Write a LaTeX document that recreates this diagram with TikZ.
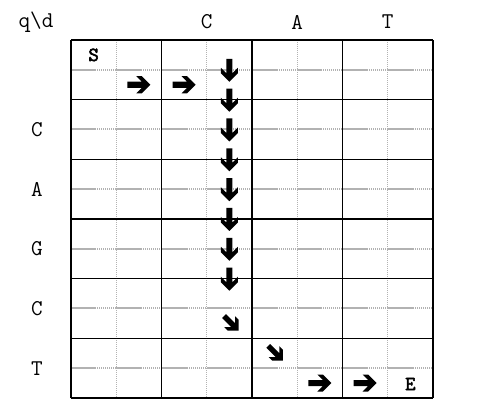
\documentclass[tikz,border=0pt]{standalone}
\usepackage{fontspec}
\newfontfamily\boldmono{Latin Modern Mono}[FakeBold=3]
\begin{document}
\begin{tikzpicture}[x=1pt,y=-1pt,
  lbl/.style={font=\ttfamily\fontsize{22.5}{24}\selectfont, inner sep=0pt},
  endmark/.style={font=\boldmono\fontsize{20}{22}\selectfont, inner sep=0pt},
  heavy/.pic={\fill[black] (11.5,0) -- (3,-8.5) -- (-2.5,-8.5) -- (3,-3) -- (-11.5,-3)
     -- (-11.5,3) -- (3,3) -- (-2.5,8.5) -- (3,8.5) -- cycle;},
  minor hs/.style={draw=black!30, line width=2pt, dash pattern=on 25pt off 20.25pt},
  minor hd/.style={draw=black!30, line width=2pt, dash pattern=on 1pt off 1pt},
  minor v/.style={draw=black!30, line width=1.4pt, dash pattern=on 1pt off 1pt},
  major/.style={draw=black, line width=1.5pt}]
\useasboundingbox (0,0) rectangle (480,415);
\def\gx#1{71+45.25*#1}
\def\gy#1{40+29.833*#1}
% minor lines
\foreach \i in {1,3,5,7} \draw[minor v] ({\gx{\i}},40) -- ({\gx{\i}},398);
\foreach \j in {1,3,5,7,9,11} {
  \draw[minor hd] (71,{\gy{\j}}) -- (433,{\gy{\j}});
  \draw[minor hs] (71,{\gy{\j}}) -- (433,{\gy{\j}});
}
% major lines
\foreach \i in {0,2,4,6,8} \draw[major] ({\gx{\i}},40) -- ({\gx{\i}},398);
\foreach \j in {0,2,4,6,8,10,12} \draw[major] (71,{\gy{\j}}) -- (433,{\gy{\j}});
% headers
\node[lbl] (qd) at (36,22) {q\textbackslash d};
\node[lbl] (hC) at ({\gx{3}},22) {C};
\node[lbl] (hA) at ({\gx{5}},22) {A};
\node[lbl] (hT) at ({\gx{7}},22) {T};
\node[lbl] (rC1) at (37,{\gy{3}}) {C};
\node[lbl] (rA) at (37,{\gy{5}}) {A};
\node[lbl] (rG) at (37,{\gy{7}}) {G};
\node[lbl] (rC2) at (37,{\gy{9}}) {C};
\node[lbl] (rT) at (37,{\gy{11}}) {T};
% S and E
\node[endmark] (S) at ({\gx{0.5}},{\gy{0.5}}) {S};
\node[endmark] (E) at ({\gx{7.5}},{\gy{11.5}+1}) {E};
% arrows
\pic (r1) at ({\gx{1.5}},{\gy{1.5}}) {heavy};
\pic (r2) at ({\gx{2.5}},{\gy{1.5}}) {heavy};
\foreach \j in {1,...,8}
  \pic[rotate=-90] (d\j) at ({\gx{3.5}},{\gy{\j+0.5}}) {heavy};
\pic[rotate=-45, scale=0.9] (g1) at ({\gx{3.5}+2},{\gy{9.5}}) {heavy};
\pic[rotate=-45, scale=0.9] (g2) at ({\gx{4.5}+1},{\gy{10.5}}) {heavy};
\pic (r3) at ({\gx{5.5}},{\gy{11.5}}) {heavy};
\pic (r4) at ({\gx{6.5}},{\gy{11.5}}) {heavy};
\end{tikzpicture}
\end{document}
